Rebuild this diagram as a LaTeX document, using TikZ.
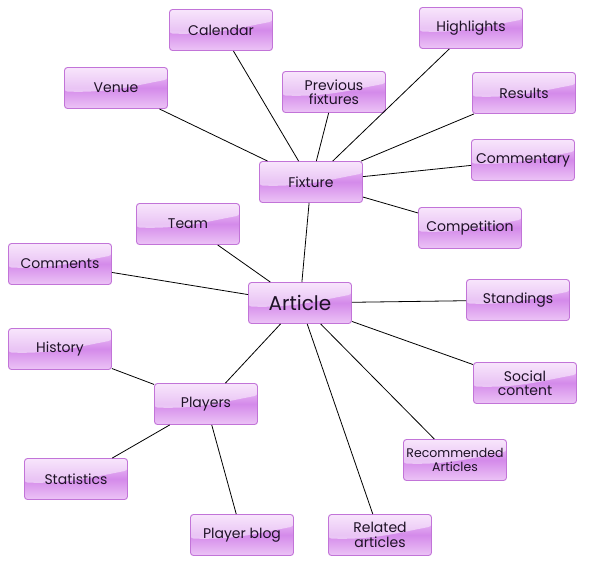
\documentclass[tikz,border=0pt]{standalone}
\usepackage{fontspec}
\setmainfont{Poppins}
\usetikzlibrary{calc}
\definecolor{boxborder}{HTML}{C274D8}
\definecolor{boxtop}{HTML}{F1CCF9}
\definecolor{boxmid}{HTML}{D48AEA}
\definecolor{boxbot}{HTML}{ECC4F6}
\definecolor{boxtext}{HTML}{1E1226}
\tikzset{
  topic/.style={rectangle, rounded corners=3pt, minimum width=103pt, minimum height=41pt,
    draw=boxborder, line width=0.9pt, inner sep=0pt, align=center,
    top color=boxtop, bottom color=boxbot, middle color=boxmid,
    text=boxtext, font=\fontsize{14}{14.5}\selectfont,
    path picture={
      \fill[white,opacity=0.5]
        (path picture bounding box.north west) -- (path picture bounding box.north east)
        -- ($(path picture bounding box.east)+(0,-8.5)$)
        .. controls ($(path picture bounding box.east)+(-35,-2)$) and ($(path picture bounding box.west)+(45,5)$)
        .. ($(path picture bounding box.west)+(0,3.5)$) -- cycle;
    }},
  bigtopic/.style={topic, font=\fontsize{20}{20}\selectfont},
  link/.style={draw=black, line width=0.8pt}
}
\begin{document}
\begin{tikzpicture}[x=1pt,y=-1pt]
\useasboundingbox (0,0) rectangle (590,566);
\node[topic] (calendar) at (221,30) {Calendar};
\node[topic] (highlights) at (471,28) {Highlights};
\node[topic] (venue) at (116,88) {Venue};
\node[topic] (previous) at (334,92) {Previous\\fixtures};
\node[topic] (results) at (524,93) {Results};
\node[topic] (commentary) at (523,160) {Commentary};
\node[topic] (fixture) at (311,182) {Fixture};
\node[topic] (team) at (188,224) {Team};
\node[topic] (competition) at (470,228) {Competition};
\node[topic] (comments) at (60,264) {Comments};
\node[bigtopic] (article) at (300,303) {Article};
\node[topic] (standings) at (518,300) {Standings};
\node[topic] (history) at (60,349) {History};
\node[topic] (social) at (525,383) {Social\\content};
\node[topic] (players) at (206,404) {Players};
\node[topic, font=\fontsize{12.5}{13.5}\selectfont] (recommended) at (455,460) {Recommended\\Articles};
\node[topic] (statistics) at (76,479) {Statistics};
\node[topic] (blog) at (242,535) {Player blog};
\node[topic] (related) at (380,535) {Related\\articles};
\foreach \t in {calendar,venue,previous,highlights,results,commentary,competition}
  \draw[link] (fixture) -- (\t);
\foreach \t in {fixture,team,comments,standings,social,recommended,related,players}
  \draw[link] (article) -- (\t);
\foreach \t in {history,statistics,blog}
  \draw[link] (players) -- (\t);
\end{tikzpicture}
\end{document}
